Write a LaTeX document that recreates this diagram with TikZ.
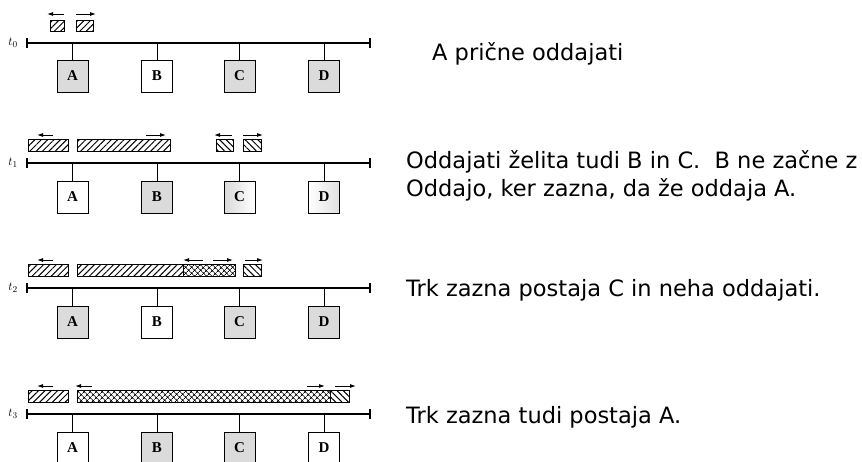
\documentclass[tikz,border=0pt]{standalone}
\usepackage{fontspec}
\setmainfont{DejaVu Sans}
\newfontfamily\stfont{Liberation Serif}
\usetikzlibrary{patterns.meta,arrows.meta}
\tikzset{
  x=1pt,y=-1pt,
  station/.style={draw,line width=1pt,minimum width=31pt,minimum height=32pt,inner sep=0pt,font=\stfont\bfseries\fontsize{15}{15}\selectfont},
  busline/.style={line width=1.1pt},
  stub/.style={line width=1pt},
  busy/.style={fill=gray!28},
  frameNE/.style={draw,line width=0.9pt,pattern={Lines[angle=45,distance=4.5pt,line width=1pt]}},
  frameNW/.style={draw,line width=0.9pt,pattern={Lines[angle=-45,distance=4.5pt,line width=1pt]}},
  frameX/.style={draw,line width=0.9pt,pattern={Hatch[angle=45,distance=4pt,line width=0.8pt]}},
  sig/.style={line width=0.9pt,-{Latex[length=6pt,width=4pt]}},
  tlab/.style={font=\fontsize{13}{13}\selectfont,anchor=center},
  note/.style={anchor=base west,font=\fontsize{22.5}{24}\selectfont,inner sep=0pt}
}
\begin{document}
\begin{tikzpicture}
\useasboundingbox (0,0) rectangle (862,461);
\foreach \r/\y in {0/43,1/163,2/288,3/414}{
  \coordinate (L\r) at (27,\y);
  \coordinate (R\r) at (370,\y);
  \draw[busline] (L\r) -- (R\r);
  \draw[busline] ([yshift=-5pt]L\r) -- ([yshift=5pt]L\r);
  \draw[busline] ([yshift=-5pt]R\r) -- ([yshift=5pt]R\r);
  \node[tlab] (t\r) at (13,\y) {$t_{\r}$};
}
% stations row 0
\node[station,busy] (A0) at (72.5,76) {A};
\node[station]      (B0) at (157,76) {B};
\node[station,busy] (C0) at (239.5,76) {C};
\node[station,busy] (D0) at (324,76) {D};
% stations row 1
\node[station]      (A1) at (72.5,197) {A};
\node[station,busy] (B1) at (157,197) {B};
\node[station,left color=gray!30,right color=white] (C1) at (239.5,197) {C};
\node[station,left color=white,right color=gray!25] (D1) at (324,197) {D};
% stations row 2
\node[station,busy] (A2) at (72.5,322) {A};
\node[station]      (B2) at (157,322) {B};
\node[station,busy] (C2) at (239.5,322) {C};
\node[station,busy] (D2) at (324,322) {D};
% stations row 3
\node[station]      (A3) at (72.5,448) {A};
\node[station,busy] (B3) at (157,448) {B};
\node[station,busy] (C3) at (239.5,448) {C};
\node[station]      (D3) at (324,448) {D};
\foreach \r in {0,1,2,3}{
  \foreach \s in {A,B,C,D}{
    \draw[stub] (\s\r.north |- L\r) -- (\s\r.north);
  }
}
% ---------- frames row 0 ----------
\draw[frameNE] (50,20) rectangle (64,31);
\draw[frameNE] (76,20) rectangle (93,31);
\draw[sig] (64,14) -- (47,14);
\draw[sig] (76,14) -- (96,14);
% ---------- frames row 1 ----------
\draw[frameNE] (28,139) rectangle (68,151);
\draw[frameNE] (77,139) rectangle (170,151);
\draw[frameNW] (216,139) rectangle (233,151);
\draw[frameNW] (243,139) rectangle (261,151);
\draw[sig] (53,135) -- (37,135);
\draw[sig] (146,135) -- (166,135);
\draw[sig] (232,135) -- (214,135);
\draw[sig] (243,135) -- (263,135);
% ---------- frames row 2 ----------
\draw[frameNE] (28,264) rectangle (68,276);
\draw[frameNE] (77,264) rectangle (183,276);
\draw[frameX] (183,264) rectangle (235,276);
\draw[frameNW] (243,264) rectangle (261,276);
\draw[sig] (53,260) -- (37,260);
\draw[sig] (203,260) -- (183,260);
\draw[sig] (213,260) -- (233,260);
\draw[sig] (245,260) -- (263,260);
% ---------- frames row 3 ----------
\draw[frameNE] (28,390) rectangle (68,402);
\draw[frameX] (77,390) rectangle (330,402);
\draw[frameNW] (330,390) rectangle (349,402);
\draw[sig] (53,386) -- (37,386);
\draw[sig] (92,386) -- (75,386);
\draw[sig] (307,386) -- (325,386);
\draw[sig] (335,386) -- (356,386);
% ---------- notes ----------
\node[note] (n0) at (432,60) {A prične oddajati};
\node[note] (n1) at (406,168) {Oddajati želita tudi B in C.\ \ B ne začne z};
\node[note] (n1b) at (406,196) {Oddajo, ker zazna, da že oddaja A.};
\node[note] (n2) at (406,296) {Trk zazna postaja C in neha oddajati.};
\node[note] (n3) at (406,423) {Trk zazna tudi postaja A.};
\end{tikzpicture}
\end{document}
